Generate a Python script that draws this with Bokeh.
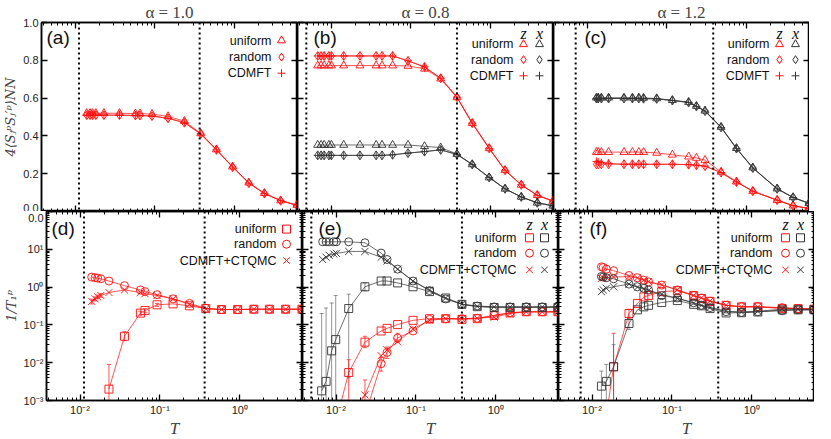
from bokeh.plotting import figure
from bokeh.layouts import column, row
from bokeh.models import (Range1d, LinearScale, LinearAxis, FixedTicker,
                          CustomJSTickFormatter, Span, Label)
from bokeh.embed import file_html
from bokeh.resources import INLINE

# ---------------- data ----------------
titles = ["α = 1.0", "α = 0.8", "α = 1.2"]
panel_tags = ["(a)", "(b)", "(c)", "(d)", "(e)", "(f)"]
dotted_T = [[0.0112, 0.363], [0.0049, 0.377], [0.0072, 0.38]]

x_major = [0.01, 0.1, 1.0]
x_major_labels = ["10⁻²", "10⁻¹", "10⁰"]
x_minor = [m * d for d in (0.001, 0.01, 0.1, 1.0) for m in range(2, 10)]
ytop_major = [0.0, 0.2, 0.4, 0.6, 0.8, 1.0]
ytop_labels = ["0.0", "0.2", "0.4", "0.6", "0.8", "1.0"]
ybot_major = [1e-3, 1e-2, 1e-1, 1.0, 10.0, 100.0]
# the shared boundary carries the "0.0" label of the upper panel
ybot_labels = ["10⁻³", "10⁻²", "10⁻¹", "10⁰", "10¹", "0.0"]
ybot_minor = [m * d for d in (1e-3, 1e-2, 1e-1, 1.0, 10.0) for m in range(2, 10)]

# panel (a) / (d)  alpha = 1.0
T_a = [0.014, 0.0154, 0.0166, 0.0182, 0.023, 0.036, 0.057, 0.065, 0.092, 0.146,
       0.234, 0.375, 0.59, 0.94, 1.5, 2.35, 3.75, 6.0]
a_uniform = [0.52, 0.52, 0.52, 0.52, 0.52, 0.52, 0.518, 0.518, 0.515, 0.503,
             0.478, 0.413, 0.328, 0.237, 0.152, 0.097, 0.058, 0.034]
a_random = [0.51, 0.51, 0.51, 0.51, 0.51, 0.51, 0.508, 0.508, 0.505, 0.493,
            0.47, 0.41, 0.326, 0.235, 0.15, 0.095, 0.057, 0.033]
a_cdmft = a_random

T_d_uni = [0.023, 0.036, 0.057, 0.065, 0.092, 0.146, 0.234, 0.375, 0.59, 0.94, 1.5, 2.35, 3.75, 6.0]
d_uniform = [0.002, 0.05, 0.205, 0.24, 0.34, 0.36, 0.32, 0.27, 0.255, 0.255, 0.26, 0.26, 0.26, 0.26]
d_random = [1.84, 1.77, 1.73, 1.66, 1.45, 1.09, 0.84, 0.76, 0.63, 0.49, 0.37, 0.275,
            0.255, 0.255, 0.26, 0.26, 0.26, 0.26]
d_cdmft = [0.42, 0.49, 0.55, 0.6, 0.72, 0.84, 0.72, 0.67, 0.6, 0.49, 0.35, 0.265,
           0.255, 0.255, 0.26, 0.26, 0.26, 0.26]
d_err_uni_T = [0.023, 0.036, 0.057, 0.065, 0.092]
d_err_uni_lo = [0.0002, 0.038, 0.18, 0.21, 0.31]
d_err_uni_hi = [0.009, 0.066, 0.23, 0.27, 0.37]
d_err_cd_T = [0.014, 0.0154, 0.0166, 0.0182]
d_err_cd_lo = [0.36, 0.43, 0.49, 0.54]
d_err_cd_hi = [0.48, 0.55, 0.62, 0.67]

# panel (b) / (e)  alpha = 0.8
T_b = [0.0068, 0.0075, 0.0082, 0.0094, 0.0101, 0.0144, 0.023, 0.0367, 0.0435, 0.059,
       0.092, 0.148, 0.236, 0.377, 0.586, 0.955, 1.51, 2.41, 3.82, 6.0]
b_uniform_z = [0.772, 0.772, 0.772, 0.772, 0.772, 0.772, 0.772, 0.772, 0.772, 0.772,
               0.77, 0.755, 0.703, 0.604, 0.467, 0.334, 0.218, 0.141, 0.086, 0.055]
b_random_z = [0.823, 0.823, 0.823, 0.823, 0.823, 0.823, 0.823, 0.823, 0.823, 0.823,
              0.797, 0.765, 0.705, 0.605, 0.467, 0.334, 0.218, 0.141, 0.086, 0.055]
b_uniform_x = [0.352, 0.352, 0.352, 0.352, 0.352, 0.352, 0.352, 0.352, 0.352, 0.352,
               0.352, 0.345, 0.338, 0.304, 0.249, 0.18, 0.12, 0.077, 0.046, 0.03]
b_random_x = [0.297, 0.297, 0.297, 0.297, 0.297, 0.297, 0.297, 0.297, 0.297, 0.3,
              0.309, 0.317, 0.326, 0.302, 0.249, 0.18, 0.12, 0.077, 0.046, 0.03]
b_cdmft_z = b_random_z
b_cdmft_x = b_random_x

e_random_x = [15.8, 15.8, 15.8, 15.8, 15.8, 15.8, 14.9, 7.96, 5.37, 2.99,
              1.45, 0.81, 0.487, 0.35, 0.317, 0.3, 0.3, 0.3, 0.3, 0.3]
e_cdmft_x = [5.37, 6.18, 6.95, 7.5, 7.8, 8.79, 8.79, 6.18, 4.9, 2.99,
             1.45, 0.84, 0.515, 0.35, 0.31, 0.3, 0.3, 0.3, 0.3, 0.3]
T_e_sq = [0.0066, 0.0075, 0.0088, 0.0099, 0.0144, 0.023, 0.0367, 0.0435, 0.059, 0.092,
          0.148, 0.236, 0.377, 0.586, 0.955, 1.51, 2.41, 3.82, 6.0]
e_uniform_x = [0.0018, 0.0032, 0.0206, 0.0408, 0.271, 1.02, 1.45, 1.45, 1.29, 1.02,
               0.76, 0.515, 0.35, 0.304, 0.287, 0.287, 0.29, 0.29, 0.29]
T_e_uz = [0.0101, 0.0144, 0.023, 0.0367, 0.0435, 0.059, 0.092, 0.148, 0.236, 0.377,
          0.586, 0.955, 1.51, 2.41, 3.82, 6.0]
e_uniform_z = [0.0003, 0.0055, 0.035, 0.069, 0.081, 0.102, 0.132, 0.146, 0.146, 0.14,
               0.146, 0.177, 0.207, 0.223, 0.223, 0.223]
T_e_rz = [0.023, 0.0367, 0.0435, 0.059, 0.092, 0.148, 0.236, 0.377, 0.586, 0.955,
          1.51, 2.41, 3.82, 6.0]
e_random_z = [0.0004, 0.0094, 0.0187, 0.045, 0.069, 0.14, 0.146, 0.146, 0.15, 0.18,
              0.21, 0.223, 0.223, 0.223]
T_e_cz = [0.0144, 0.023, 0.0367, 0.0435, 0.059, 0.092, 0.148, 0.236, 0.377, 0.586,
          0.955, 1.51, 2.41, 3.82, 6.0]
e_cdmft_z = [0.0003, 0.0014, 0.0153, 0.0218, 0.0357, 0.078, 0.132, 0.146, 0.146, 0.15,
             0.16, 0.2, 0.22, 0.22, 0.22]
e_err_ux_T = [0.0066, 0.0075, 0.0088, 0.0099, 0.0144, 0.023]
e_err_ux_lo = [0.0002, 0.0002, 0.0002, 0.0002, 0.004, 0.8]
e_err_ux_hi = [0.2, 0.28, 0.38, 0.6, 0.65, 1.3]
e_err_uz_T = [0.0144, 0.023]
e_err_uz_lo = [0.0002, 0.025]
e_err_uz_hi = [0.012, 0.05]
e_err_cz_T = [0.023]
e_err_cz_lo = [0.0002]
e_err_cz_hi = [0.0035]
e_err_rz_T = [0.0367, 0.0435, 0.059]
e_err_rz_lo = [0.006, 0.013, 0.035]
e_err_rz_hi = [0.014, 0.026, 0.06]

# panel (c) / (f)  alpha = 1.2
T_c = [0.0131, 0.0138, 0.0151, 0.0186, 0.029, 0.037, 0.0445, 0.051, 0.0745, 0.117,
       0.187, 0.234, 0.3, 0.477, 0.743, 1.19, 2.4, 3.8, 6.0]
c_uniform_x = [0.602, 0.602, 0.602, 0.602, 0.602, 0.602, 0.602, 0.601, 0.598, 0.589,
               0.579, 0.558, 0.533, 0.447, 0.335, 0.232, 0.121, 0.075, 0.044]
c_random_x = [0.598, 0.598, 0.598, 0.598, 0.598, 0.598, 0.598, 0.597, 0.596, 0.587,
              0.577, 0.556, 0.531, 0.445, 0.333, 0.23, 0.12, 0.074, 0.043]
c_uniform_z = [0.314, 0.314, 0.314, 0.314, 0.314, 0.314, 0.314, 0.314, 0.31, 0.3,
               0.29, 0.283, 0.272, 0.21, 0.158, 0.108, 0.06, 0.031, 0.016]
c_random_z = [0.25, 0.25, 0.25, 0.25, 0.25, 0.25, 0.25, 0.25, 0.25, 0.25,
              0.248, 0.245, 0.24, 0.206, 0.156, 0.107, 0.06, 0.031, 0.016]
c_cdmft_z = [0.265, 0.262, 0.258, 0.255, 0.25, 0.25, 0.25, 0.25, 0.25, 0.25,
             0.248, 0.245, 0.24, 0.206, 0.156, 0.107, 0.06, 0.031, 0.016]
c_cdmft_x = c_random_x

f_random_z = [3.44, 3.3, 2.99, 2.72, 2.03, 1.77, 1.52, 1.37, 1.13, 0.84,
              0.594, 0.515, 0.425, 0.33, 0.304, 0.304, 0.287, 0.271, 0.261]
f_random_x = [1.92, 1.84, 1.77, 1.66, 1.2, 1.02, 0.93, 0.84, 0.594, 0.515,
              0.385, 0.33, 0.287, 0.223, 0.214, 0.223, 0.237, 0.251, 0.251]
f_cdmft_x = [0.76, 0.84, 0.93, 1.02, 1.2, 1.0, 0.9, 0.82, 0.65, 0.5,
             0.38, 0.33, 0.29, 0.23, 0.22, 0.23, 0.26, 0.26, 0.26]
f_cdmft_z = [1.7, 1.75, 1.8, 1.85, 1.9, 1.75, 1.55, 1.4, 1.15, 0.85,
             0.6, 0.52, 0.43, 0.33, 0.3, 0.3, 0.28, 0.27, 0.26]
T_f_ux = [0.0131, 0.0151, 0.0186, 0.029, 0.037, 0.0445, 0.051, 0.0745, 0.117, 0.187,
          0.234, 0.3, 0.477, 0.743, 1.19, 2.4, 3.8, 6.0]
f_uniform_x = [0.0024, 0.0032, 0.0078, 0.109, 0.25, 0.3, 0.33, 0.39, 0.44, 0.35,
               0.32, 0.27, 0.207, 0.21, 0.22, 0.25, 0.25, 0.25]
T_f_uz = [0.0151, 0.0186, 0.029, 0.037, 0.0445, 0.051, 0.0745, 0.117, 0.187, 0.234,
          0.3, 0.477, 0.743, 1.19, 2.4, 3.8, 6.0]
f_uniform_z = [0.0004, 0.0078, 0.2, 0.37, 0.55, 0.6, 0.76, 0.8, 0.6, 0.5,
               0.42, 0.33, 0.3, 0.3, 0.27, 0.27, 0.26]
f_err_ux_T = [0.0131, 0.0151, 0.0186, 0.029]
f_err_ux_lo = [0.0002, 0.0002, 0.0002, 0.075]
f_err_ux_hi = [0.006, 0.009, 0.03, 0.16]
f_err_uz_T = [0.0186, 0.029]
f_err_uz_lo = [0.0002, 0.15]
f_err_uz_hi = [0.06, 0.26]

# ---------------- style ----------------
RED = "#ff1010"
BLK = "#333333"
GRY = "#666666"
FW, FH = 256, 189
LEFT = 40
XMIN, XMAX = 0.0038, 6.1
SANS = "Liberation Sans"
SERIF = "Liberation Serif"

FMT = """
for (let i = 0; i < vals.length; i++) {
  if (Math.abs(tick - vals[i]) <= 1e-6 * Math.abs(vals[i]) + 1e-12) return labs[i];
}
return "";
"""


def style_axis(ax, ticks, minor, labels, show):
    ax.ticker = FixedTicker(ticks=ticks, minor_ticks=minor)
    ax.major_tick_in = 6
    ax.major_tick_out = 0
    ax.minor_tick_in = 3
    ax.minor_tick_out = 0
    ax.axis_line_width = 1.5
    ax.axis_line_color = "black"
    ax.major_tick_line_width = 1.3
    ax.minor_tick_line_width = 1.0
    ax.major_label_text_font = SANS
    ax.axis_label = ""
    if show:
        ax.formatter = CustomJSTickFormatter(args=dict(vals=ticks, labs=labels), code=FMT)
        ax.major_label_text_font_size = "11px"
        ax.major_label_text_color = "#222222"
        ax.major_label_standoff = 3
    else:
        ax.formatter = CustomJSTickFormatter(code="return '';")
        ax.major_label_text_font_size = "0px"
        ax.major_label_text_color = None
        ax.major_label_text_alpha = 0
        ax.major_label_standoff = 0


def make_panel(top, col):
    p = figure(frame_width=FW, frame_height=FH, x_axis_type="log",
               y_axis_type="linear" if top else "log",
               x_range=Range1d(XMIN, XMAX),
               y_range=Range1d(0, 1) if top else Range1d(1e-3, 1e2),
               output_backend="svg", toolbar_location=None, tools="",
               min_border=0, min_border_left=LEFT if col == 0 else 0,
               min_border_right=0, min_border_top=0, min_border_bottom=0,
               background_fill_color="white", border_fill_color="white",
               outline_line_color="black", outline_line_width=1.5)
    p.xgrid.visible = False
    p.ygrid.visible = False
    p.extra_x_ranges = {"px": Range1d(0, FW)}
    p.extra_y_ranges = {"px": Range1d(0, FH)}
    p.extra_x_scales = {"px": LinearScale()}
    p.extra_y_scales = {"px": LinearScale()}

    xb = p.below[0]
    yl_ax = p.left[0]
    yt, ym, yl = (ytop_major, [], ytop_labels) if top else (ybot_major, ybot_minor, ybot_labels)
    style_axis(xb, x_major, x_minor, x_major_labels, not top)
    style_axis(yl_ax, yt, ym, yl, col == 0)
    ax_top = LinearAxis()
    style_axis(ax_top, x_major, x_minor, x_major_labels, False)
    p.add_layout(ax_top, "above")
    ax_right = LinearAxis()
    style_axis(ax_right, yt, ym, yl, False)
    p.add_layout(ax_right, "right")

    if not top:
        xb.axis_label = "T"
        xb.axis_label_text_font = SERIF
        xb.axis_label_text_font_style = "italic"
        xb.axis_label_text_font_size = "17px"
        xb.axis_label_standoff = 0
    if col == 0:
        yl_ax.axis_label = "4⟨SⱼᵖSⱼ′ᵖ⟩NN" if top else "1/T₁ᵖ"
        yl_ax.axis_label_text_font = "DejaVu Serif"
        yl_ax.axis_label_text_font_style = "italic"
        yl_ax.axis_label_text_font_size = "13px"
        yl_ax.axis_label_standoff = 2
    if top:
        p.title.text = titles[col]
        p.title.align = "center"
        p.title.text_font = SERIF
        p.title.text_font_style = "normal"
        p.title.text_font_size = "17px"
        p.title.standoff = 1
        p.title.offset = 0

    for t in dotted_T[col]:
        p.add_layout(Span(location=t, dimension="height", line_color="black",
                          line_width=2, line_dash="2 3"))

    tag = panel_tags[col if top else col + 3]
    tag_x = [5, 16, 31][col]
    tag_dy = 15 if top else 17
    p.add_layout(Label(x=tag_x, y=FH - tag_dy, text=tag, x_range_name="px", y_range_name="px",
                       text_font=SANS, text_font_size="19px", text_baseline="middle",
                       text_color="#111111"))
    return p


def draw(p, T, v, color, marker, size=8):
    p.line(T, v, line_color=color, line_width=1, line_alpha=0.7)
    p.scatter(T, v, marker=marker, size=size, fill_color=None, line_color=color,
              line_width=1, line_alpha=0.9)


def errbars(p, T, lo, hi, color):
    p.segment(x0=T, y0=lo, x1=T, y1=hi, line_color=color, line_width=1, line_alpha=0.7)
    p.scatter(T, hi, marker="dash", size=4, line_color=color, line_alpha=0.7)
    p.scatter(T, lo, marker="dash", size=4, line_color=color, line_alpha=0.7)


def legend(p, labels, markers, colors, dys, xmarks, xtext, header_dy=None):
    for lab, mk, dy in zip(labels, markers, dys):
        p.add_layout(Label(x=FW - xtext, y=FH - dy, text=lab, x_range_name="px",
                           y_range_name="px", text_align="right", text_baseline="middle",
                           text_font=SANS, text_font_size="12.5px", text_color="#111111"))
        for xm, c in zip(xmarks, colors):
            p.scatter([FW - xm], [FH - dy], marker=mk, size=9 if mk == "x" else 8,
                      fill_color=None, line_color=c, line_width=1,
                      x_range_name="px", y_range_name="px")
    if header_dy is not None:
        for xm, h in zip(xmarks, ["z", "x"]):
            p.add_layout(Label(x=FW - xm, y=FH - header_dy, text=h, x_range_name="px",
                               y_range_name="px", text_align="center", text_baseline="middle",
                               text_font=SERIF, text_font_style="italic",
                               text_font_size="16px", text_color="#111111"))


# ---------------- panels ----------------
pa = make_panel(True, 0)
draw(pa, T_a, a_uniform, RED, "triangle")
draw(pa, T_a, a_random, RED, "diamond", 9)
draw(pa, T_a, a_cdmft, RED, "cross")
legend(pa, ["uniform", "random", "CDMFT"], ["triangle", "diamond", "cross"], [RED],
       [18, 34.6, 50.7], [16], 26)

pb = make_panel(True, 1)
draw(pb, T_b, b_uniform_z, RED, "triangle")
draw(pb, T_b, b_random_z, RED, "diamond", 9)
draw(pb, T_b, b_cdmft_z, RED, "cross")
draw(pb, T_b, b_uniform_x, BLK, "triangle")
draw(pb, T_b, b_random_x, BLK, "diamond", 9)
draw(pb, T_b, b_cdmft_x, BLK, "cross")
legend(pb, ["uniform", "random", "CDMFT"], ["triangle", "diamond", "cross"], [RED, BLK],
       [21.8, 37.2, 53.3], [30, 14], 40, header_dy=10.5)

pc = make_panel(True, 2)
draw(pc, T_c, c_uniform_z, RED, "triangle")
draw(pc, T_c, c_random_z, RED, "diamond", 9)
draw(pc, T_c, c_cdmft_z, RED, "cross")
draw(pc, T_c, c_uniform_x, BLK, "triangle")
draw(pc, T_c, c_random_x, BLK, "diamond", 9)
draw(pc, T_c, c_cdmft_x, BLK, "cross")
legend(pc, ["uniform", "random", "CDMFT"], ["triangle", "diamond", "cross"], [RED, BLK],
       [21.8, 37.2, 53.3], [30, 14], 40, header_dy=10.5)

pd = make_panel(False, 0)
errbars(pd, d_err_uni_T, d_err_uni_lo, d_err_uni_hi, RED)
errbars(pd, d_err_cd_T, d_err_cd_lo, d_err_cd_hi, RED)
draw(pd, T_d_uni, d_uniform, RED, "square")
draw(pd, T_a, d_random, RED, "circle")
draw(pd, T_a, d_cdmft, RED, "x", 10)
legend(pd, ["uniform", "random", "CDMFT+CTQMC"], ["square", "circle", "x"], [RED],
       [17.6, 32.7, 49], [16], 26)

pe = make_panel(False, 1)
errbars(pe, e_err_ux_T, e_err_ux_lo, e_err_ux_hi, GRY)
errbars(pe, e_err_uz_T, e_err_uz_lo, e_err_uz_hi, RED)
errbars(pe, e_err_cz_T, e_err_cz_lo, e_err_cz_hi, RED)
errbars(pe, e_err_rz_T, e_err_rz_lo, e_err_rz_hi, RED)
draw(pe, T_e_uz, e_uniform_z, RED, "square")
draw(pe, T_e_rz, e_random_z, RED, "circle")
draw(pe, T_e_cz, e_cdmft_z, RED, "x", 10)
draw(pe, T_e_sq, e_uniform_x, BLK, "square")
draw(pe, T_b, e_random_x, BLK, "circle")
draw(pe, T_b, e_cdmft_x, BLK, "x", 10)
legend(pe, ["uniform", "random", "CDMFT+CTQMC"], ["square", "circle", "x"], [RED, BLK],
       [26.3, 41.7, 58.3], [29, 14], 42, header_dy=12.8)

pf = make_panel(False, 2)
errbars(pf, f_err_ux_T, f_err_ux_lo, f_err_ux_hi, GRY)
errbars(pf, f_err_uz_T, f_err_uz_lo, f_err_uz_hi, RED)
draw(pf, T_f_uz, f_uniform_z, RED, "square")
draw(pf, T_c, f_random_z, RED, "circle")
draw(pf, T_c, f_cdmft_z, RED, "x", 10)
draw(pf, T_f_ux, f_uniform_x, BLK, "square")
draw(pf, T_c, f_random_x, BLK, "circle")
draw(pf, T_c, f_cdmft_x, BLK, "x", 10)
legend(pf, ["uniform", "random", "CDMFT+CTQMC"], ["square", "circle", "x"], [RED, BLK],
       [26.3, 41.7, 58.3], [29, 14], 42, header_dy=12.8)

layout = column(row(pa, pb, pc, spacing=0), row(pd, pe, pf, spacing=0), spacing=0)

with open("out.html", "w") as fh:
    fh.write(file_html(layout, INLINE))
